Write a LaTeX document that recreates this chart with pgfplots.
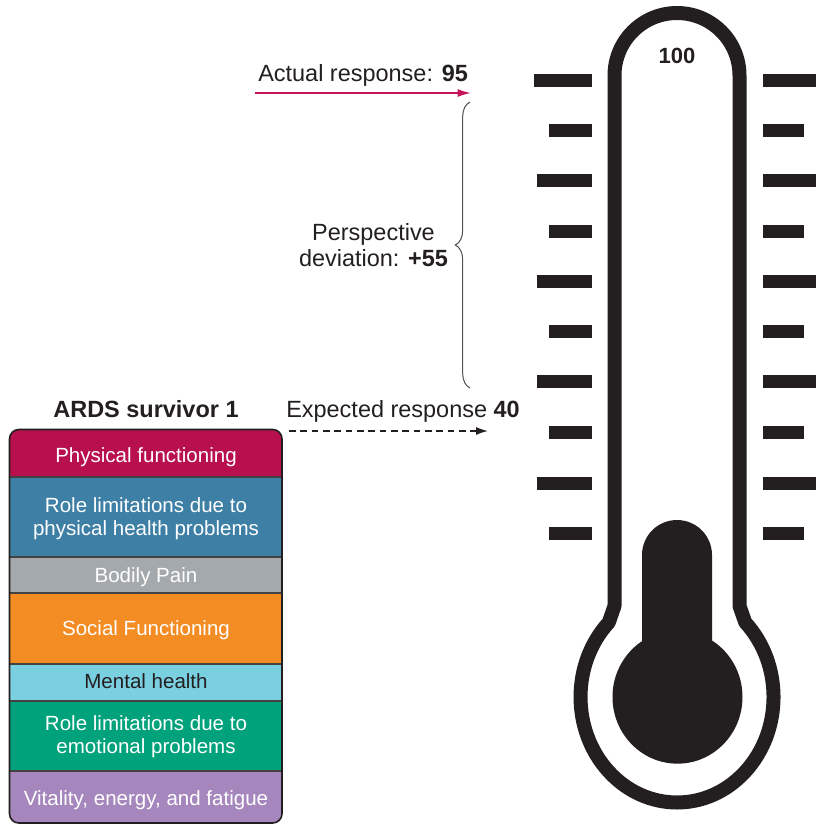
\documentclass[border=0pt]{standalone}
\usepackage{pgfplots}
\pgfplotsset{compat=1.18}
\usepackage{fontspec}
\setmainfont{Liberation Sans}
\usetikzlibrary{arrows.meta,decorations.pathreplacing}
\definecolor{tdark}{HTML}{231F20}
\definecolor{cphys}{HTML}{B8104F}
\definecolor{crolep}{HTML}{3E7FA6}
\definecolor{cbody}{HTML}{A3A9AC}
\definecolor{csoc}{HTML}{F48C24}
\definecolor{cment}{HTML}{7ACFE0}
\definecolor{crolee}{HTML}{00A27B}
\definecolor{cvit}{HTML}{A687BD}
\definecolor{cmag}{HTML}{C4145A}
\definecolor{cbrace}{HTML}{555555}
\newcommand{\ls}{\fontsize{17.6}{21}\selectfont}
\newcommand{\bs}{\fontsize{15.4}{18}\selectfont}
\begin{document}
\begin{tikzpicture}
\begin{axis}[x=0.75pt,y=0.75pt,xmin=0,xmax=816,ymin=0,ymax=826,y dir=reverse,
  hide axis,clip=false]
\path (axis cs:0,0) (axis cs:816,826);
% thermometer scale bars
\addplot[draw=tdark,line width=9.75pt,unbounded coords=jump,mark=none] coordinates {
(534,80)(592,80) (nan,nan)
(549,130)(592,130) (nan,nan)
(537,180)(592,180) (nan,nan)
(549,231)(592,231) (nan,nan)
(537,281)(592,281) (nan,nan)
(549,331)(592,331) (nan,nan)
(537,381)(592,381) (nan,nan)
(549,432)(592,432) (nan,nan)
(537,483)(592,483) (nan,nan)
(549,533)(592,533)
};
\addplot[draw=tdark,line width=9.75pt,unbounded coords=jump,mark=none] coordinates {
(763,80)(816,80) (nan,nan)
(763,130)(804,130) (nan,nan)
(763,180)(816,180) (nan,nan)
(763,231)(804,231) (nan,nan)
(763,281)(816,281) (nan,nan)
(763,331)(804,331) (nan,nan)
(763,381)(816,381) (nan,nan)
(763,432)(804,432) (nan,nan)
(763,483)(816,483) (nan,nan)
(763,533)(804,533)
};
% thermometer outline
\draw[tdark,line width=10.5pt,line join=round]
  (axis cs:608.8,622.4) arc[start angle=135,end angle=405,x radius=72.375pt,y radius=79.125pt]
  -- (axis cs:739.5,606) -- (axis cs:739.5,75.5)
  arc[start angle=0,end angle=180,radius=46.875pt]
  -- (axis cs:614.5,606) -- cycle;
% mercury
\fill[tdark] (axis cs:642,660) -- (axis cs:642,555) arc[start angle=180,end angle=0,radius=26.25pt] -- (axis cs:712,660) -- cycle;
\fill[tdark] (axis cs:677.5,697) ellipse[x radius=48.75pt,y radius=50pt];
\node[anchor=base,inner sep=0,text=tdark] at (axis cs:677,63) {\fontsize{16.5}{18}\selectfont\bfseries 100};
% box
\fill[cvit,rounded corners=7pt] (axis cs:9.5,760) rectangle (axis cs:282,823);
\fill[cphys,rounded corners=7pt] (axis cs:9.5,429.5) rectangle (axis cs:282,490);
\fill[crolep] (axis cs:9.5,477) rectangle (axis cs:282,557);
\fill[cbody] (axis cs:9.5,557) rectangle (axis cs:282,593);
\fill[csoc] (axis cs:9.5,593) rectangle (axis cs:282,664);
\fill[cment] (axis cs:9.5,664) rectangle (axis cs:282,701);
\fill[crolee] (axis cs:9.5,701) rectangle (axis cs:282,771);
\foreach \yy in {477,557,593,664,701,771}{
  \edef\tmp{\noexpand\draw[tdark!85,line width=1.1pt] (axis cs:9.5,\yy) -- (axis cs:282,\yy);}\tmp
}
\draw[tdark,line width=1.2pt,rounded corners=7pt] (axis cs:9.5,429.5) rectangle (axis cs:282,823);
\node[anchor=base,inner sep=0,text=white] at (axis cs:146,462) {\bs Physical functioning};
\node[anchor=base,inner sep=0,text=white] at (axis cs:146,512) {\bs Role limitations due to};
\node[anchor=base,inner sep=0,text=white] at (axis cs:146,535) {\bs physical health problems};
\node[anchor=base,inner sep=0,text=white] at (axis cs:146,582) {\bs Bodily Pain};
\node[anchor=base,inner sep=0,text=white] at (axis cs:146,635) {\bs Social Functioning};
\node[anchor=base,inner sep=0,text=tdark] at (axis cs:146,688) {\bs Mental health};
\node[anchor=base,inner sep=0,text=white] at (axis cs:146,730) {\bs Role limitations due to};
\node[anchor=base,inner sep=0,text=white] at (axis cs:146,753) {\bs emotional problems};
\node[anchor=base,inner sep=0,text=white] at (axis cs:146,805) {\bs Vitality, energy, and fatigue};
\node[anchor=base,inner sep=0,text=tdark] at (axis cs:146,417) {\ls\bfseries ARDS survivor 1};
% annotations
\node[anchor=base west,inner sep=0,text=tdark] at (axis cs:258,81) {\ls Actual response: \textbf{95}};
\draw[cmag,line width=1.3pt,-{Latex[length=10pt,width=6pt]}] (axis cs:255,93) -- (axis cs:471,93);
\draw[cbrace,line width=0.8pt,decorate,decoration={brace,amplitude=11pt}] (axis cs:470,388) -- (axis cs:470,102);
\node[anchor=base,inner sep=0,text=tdark] at (axis cs:373.5,240) {\ls Perspective};
\node[anchor=base,inner sep=0,text=tdark] at (axis cs:373.5,266) {\ls deviation: \textbf{+55}};
\node[anchor=base west,inner sep=0,text=tdark] at (axis cs:286,417) {\ls Expected response \textbf{40}};
\draw[tdark,line width=1.1pt,dash pattern=on 5pt off 3.5pt,-{Latex[length=9pt,width=6pt]}] (axis cs:289,431) -- (axis cs:488,431);
\end{axis}
\end{tikzpicture}
\end{document}
